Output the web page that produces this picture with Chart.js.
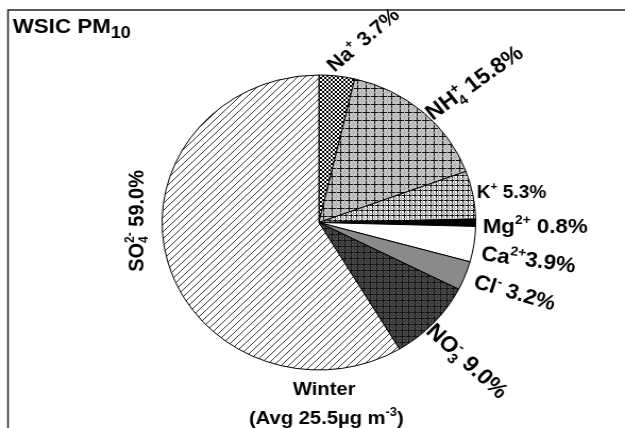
<!DOCTYPE html>
<html>
<head>
<meta charset="utf-8">
<script src="https://cdn.jsdelivr.net/npm/chart.js@4.4.1/dist/chart.umd.min.js"></script>
<style>
  html, body { margin: 0; padding: 0; background: #fff; }
  #pie { display: block; }
</style>
</head>
<body>
<!-- the original figure is slightly stretched sideways, so the canvas is too -->
<canvas id="pie" width="588" height="428" style="width:625px;height:428px"></canvas>
<script>
// ions, clockwise from 12 o'clock
const ions = ['Na+', 'NH4+', 'K+', 'Mg2+', 'Ca2+', 'Cl-', 'NO3-', 'SO42-'];
const shares = [3.7, 15.8, 5.3, 0.8, 3.9, 3.2, 9.0, 59.0];
const season = 'Winter';
const seasonAvg = 25.5;

// how each ion name is written (normal text, superscript, subscript)
const ionRuns = [
  [{ t: 'Na' }, { sup: '+' }],
  [{ t: 'NH' }, { sup: '+', sub: '4' }],
  [{ t: 'K' }, { sup: '+' }],
  [{ t: 'Mg' }, { sup: '2+' }],
  [{ t: 'Ca' }, { sup: '2+' }],
  [{ t: 'Cl' }, { sup: '-' }],
  [{ t: 'NO' }, { sup: '-', sub: '3' }],
  [{ t: 'SO' }, { sup: '2-', sub: '4' }]
];

// label placement: angle shift (deg) and gap from the rim, rotation, font size
const labelLayout = [
  { da: -1,   gap: 3,   rot: -42, size: 20, sep: ' ', align: 'left' },
  { da: 5,    gap: 0,   rot: -37, size: 22, sep: ' ', align: 'left' },
  { da: 1.4,  gap: 3,   rot: 0,   size: 18, sep: ' ', align: 'left' },
  { da: 3.9,  gap: 7,   rot: 0,   size: 21, sep: ' ', align: 'left' },
  { da: 5.4,  gap: 9,   rot: 8,   size: 21, sep: '',  align: 'left' },
  { da: 3,    gap: 11,  rot: 17,  size: 21, sep: ' ', align: 'left' },
  { da: 4.8,  gap: 1,   rot: 44,  size: 22, sep: ' ', align: 'left' },
  { da: 16,   gap: 18,  rot: -90, size: 20, sep: ' ', align: 'center' }
];

const FONT = '"Liberation Sans", Arial, sans-serif';
const font = s => 'bold ' + s + 'px ' + FONT;

function makePattern(size, bg, draw) {
  const c = document.createElement('canvas');
  c.width = c.height = size;
  const g = c.getContext('2d');
  g.fillStyle = bg;
  g.fillRect(0, 0, size, size);
  draw(g, size);
  return g.createPattern(c, 'repeat');
}

function hLine(g, y, s, col) { g.fillStyle = col; g.fillRect(0, y, s, 1); }
function vLine(g, x, s, col) { g.fillStyle = col; g.fillRect(x, 0, 1, s); }

const fills = [
  // Na: fine diagonal cross hatch
  makePattern(4, '#fff', (g, s) => {
    g.strokeStyle = '#000'; g.lineWidth = 1;
    g.beginPath();
    g.moveTo(0, 0); g.lineTo(s, s);
    g.moveTo(0, s); g.lineTo(s, 0);
    g.stroke();
  }),
  // NH4: grey with square grid
  makePattern(16, '#c6c6c6', (g, s) => {
    [0, 8].forEach(p => { hLine(g, p, s, '#111'); vLine(g, p, s, '#111'); });
    [4, 12].forEach(p => { hLine(g, p, s, '#b2b2b2'); vLine(g, p, s, '#b2b2b2'); });
  }),
  // K: white with dense grid
  makePattern(10, '#fff', (g, s) => {
    [0, 5].forEach(p => { hLine(g, p, s, '#111'); vLine(g, p, s, '#111'); });
    [2, 7].forEach(p => { vLine(g, p, s, '#999'); hLine(g, p + 1, s, '#bbb'); });
  }),
  '#000',
  '#fff',
  '#8a8a8a',
  // NO3: dark grey with grid
  makePattern(12, '#4c4c4c', (g, s) => {
    [0, 6].forEach(p => { hLine(g, p, s, '#111'); vLine(g, p, s, '#111'); });
    [3, 9].forEach(p => { hLine(g, p, s, '#3a3a3a'); vLine(g, p, s, '#3a3a3a'); });
  }),
  // SO4: "/" hatch
  makePattern(7, '#fff', (g, s) => {
    g.strokeStyle = '#3a3a3a'; g.lineWidth = 1;
    g.beginPath();
    g.moveTo(0, s); g.lineTo(s, 0);
    g.moveTo(-1, 1); g.lineTo(1, -1);
    g.moveTo(s - 1, s + 1); g.lineTo(s + 1, s - 1);
    g.stroke();
  })
];

function richWidth(ctx, runs, size) {
  let w = 0;
  runs.forEach(r => {
    if (r.t !== undefined) {
      ctx.font = font(size);
      w += ctx.measureText(r.t).width;
    } else {
      ctx.font = font(Math.round(size * (r.scale || 0.62)));
      w += Math.max(ctx.measureText(r.sup || '').width, ctx.measureText(r.sub || '').width);
    }
  });
  return w;
}

function drawRich(ctx, runs, size, align) {
  let x = align === 'center' ? -richWidth(ctx, runs, size) / 2 : 0;
  ctx.textAlign = 'left';
  ctx.textBaseline = 'alphabetic';
  ctx.fillStyle = '#000';
  runs.forEach(r => {
    if (r.t !== undefined) {
      ctx.font = font(size);
      ctx.fillText(r.t, x, 0);
      x += ctx.measureText(r.t).width;
    } else {
      ctx.font = font(Math.round(size * (r.scale || 0.62)));
      let w = 0;
      if (r.sup) { ctx.fillText(r.sup, x, -size * 0.42); w = ctx.measureText(r.sup).width; }
      if (r.sub) { ctx.fillText(r.sub, x, size * 0.24); w = Math.max(w, ctx.measureText(r.sub).width); }
      x += w;
    }
  });
}

const frameAndText = {
  id: 'frameAndText',
  beforeDraw(chart) {
    const ctx = chart.ctx;
    ctx.save();
    ctx.fillStyle = '#fff';
    ctx.fillRect(0, 0, chart.width, chart.height);
    ctx.strokeStyle = '#222';
    ctx.lineWidth = 1.5;
    ctx.beginPath();
    ctx.moveTo(7.5, chart.height);
    ctx.lineTo(7.5, 10);
    ctx.lineTo(chart.width, 10);
    ctx.stroke();
    ctx.translate(12, 33);
    drawRich(ctx, [{ t: 'WSIC PM' }, { sub: '10', scale: 0.8 }], 21, 'left');
    ctx.restore();
  },
  afterDatasetsDraw(chart) {
    const ctx = chart.ctx;
    const arcs = chart.getDatasetMeta(0).data;
    arcs.forEach((arc, i) => {
      const L = labelLayout[i];
      const a = (arc.startAngle + arc.endAngle) / 2 + L.da * Math.PI / 180;
      const r = arc.outerRadius + L.gap;
      ctx.save();
      ctx.translate(arc.x + Math.cos(a) * r, arc.y + Math.sin(a) * r);
      ctx.rotate(L.rot * Math.PI / 180);
      drawRich(ctx, ionRuns[i].concat([{ t: L.sep + shares[i].toFixed(1) + '%' }]), L.size, L.align);
      ctx.restore();
    });
    // season caption under the pie
    const c = arcs[0];
    ctx.save();
    ctx.translate(c.x + 5, c.y + c.outerRadius + 25);
    drawRich(ctx, [{ t: season }], 19, 'center');
    ctx.translate(2, 29);
    drawRich(ctx, [{ t: '(Avg ' + seasonAvg + '\u00b5g m' }, { sup: '-3' }, { t: ')' }], 19, 'center');
    ctx.restore();
  }
};

new Chart(document.getElementById('pie'), {
  type: 'pie',
  data: {
    labels: ions,
    datasets: [{
      data: shares,
      backgroundColor: fills,
      borderColor: '#000',
      borderWidth: 1,
      hoverOffset: 0
    }]
  },
  options: {
    responsive: false,
    animation: false,
    radius: 147.5,
    layout: { padding: { top: 75, bottom: 58, left: 150, right: 138 } },
    plugins: {
      legend: { display: false },
      tooltip: { enabled: false }
    }
  },
  plugins: [frameAndText]
});
</script>
</body>
</html>
